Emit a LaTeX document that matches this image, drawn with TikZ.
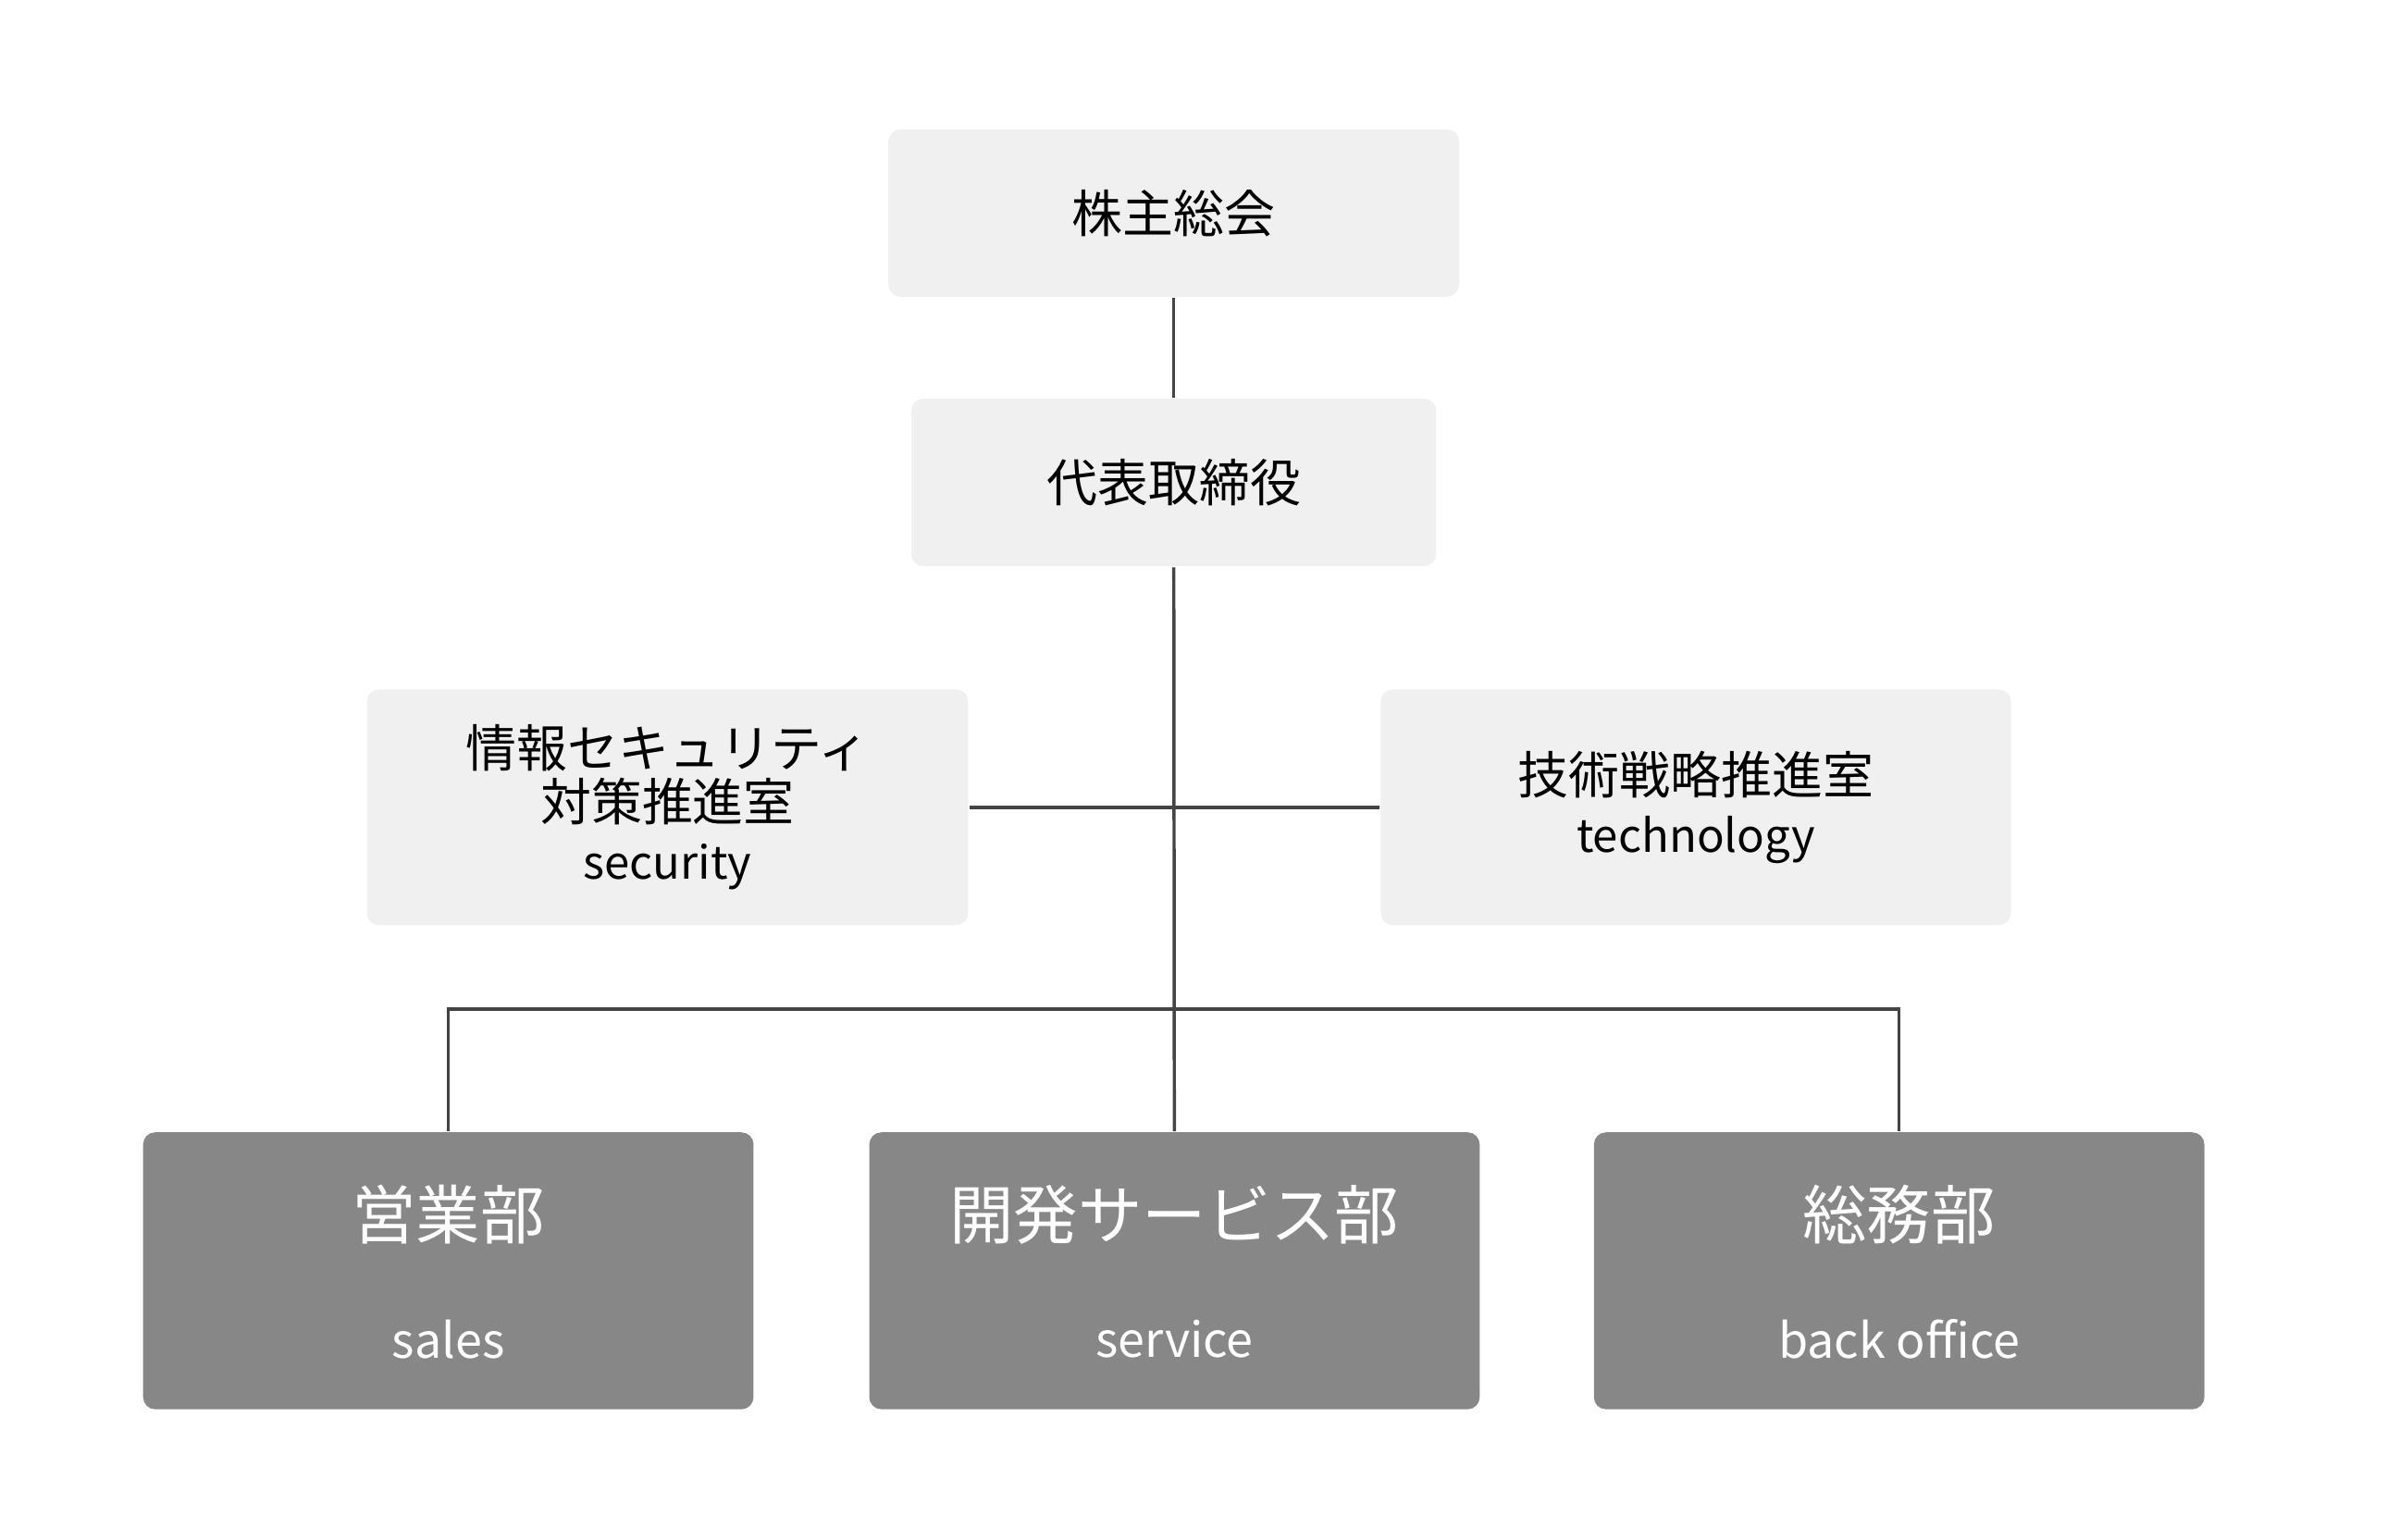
\documentclass[tikz,border=0pt]{standalone}
\usepackage{fontspec}
\setmainfont{Noto Sans CJK JP}
\usetikzlibrary{positioning}
\definecolor{boxlight}{HTML}{F0F0F0}
\definecolor{boxdark}{HTML}{878787}
\definecolor{wire}{HTML}{444444}
\tikzset{
  light/.style={fill=boxlight, rounded corners=0.08cm, align=center, inner sep=0pt, font=\fontsize{9.5pt}{12pt}\selectfont, text=black},
  dark/.style={fill=boxdark, rounded corners=0.08cm, align=center, inner sep=0pt, minimum width=4.01cm, minimum height=1.82cm, text=white},
  wire/.style={draw=wire, line width=0.6pt}
}
\begin{document}
\begin{tikzpicture}
  \useasboundingbox (0,0) rectangle (15.68,-10.113);

  \node[light, minimum width=3.75cm, minimum height=1.1cm] (agm) at (7.71,-1.40) {株主総会};
  \node[light, minimum width=3.45cm, minimum height=1.1cm] (ceo) at (7.71,-3.17) {代表取締役};
  \node[light, minimum width=3.95cm, minimum height=1.55cm] (sec) at (4.385,-5.305)
    {情報セキュリティ\\[-2pt]対策推進室\\[-1pt]{\fontsize{8.5pt}{11pt}\selectfont security}};
  \node[light, minimum width=4.14cm, minimum height=1.55cm] (tech) at (11.14,-5.305)
    {技術戦略推進室\\[-1pt]{\fontsize{8.5pt}{11pt}\selectfont technology}};

  \node[dark] (sales) at (2.945,-8.35) {};
  \node[dark] (serv) at (7.715,-8.35) {};
  \node[dark] (back) at (12.475,-8.35) {};
  \node[text=white, font=\fontsize{12pt}{14pt}\selectfont] at (2.945,-7.98) {営業部};
  \node[text=white, font=\fontsize{9pt}{11pt}\selectfont] at (2.945,-8.80) {sales};
  \node[text=white, font=\fontsize{12pt}{14pt}\selectfont] at (7.715,-7.98) {開発サービス部};
  \node[text=white, font=\fontsize{9pt}{11pt}\selectfont] at (7.715,-8.80) {service};
  \node[text=white, font=\fontsize{12pt}{14pt}\selectfont] at (12.475,-7.98) {総務部};
  \node[text=white, font=\fontsize{9pt}{11pt}\selectfont] at (12.475,-8.80) {back office};

  \coordinate (hub) at (7.71,-5.305);
  \coordinate (bus) at (7.71,-6.63);
  \draw[wire] (agm) -- (ceo);
  \draw[wire] (ceo) -- (serv);
  \draw[wire] (sec) -- (tech);
  \draw[wire] (sales.north) |- (bus) -| (back.north);
\end{tikzpicture}
\end{document}
